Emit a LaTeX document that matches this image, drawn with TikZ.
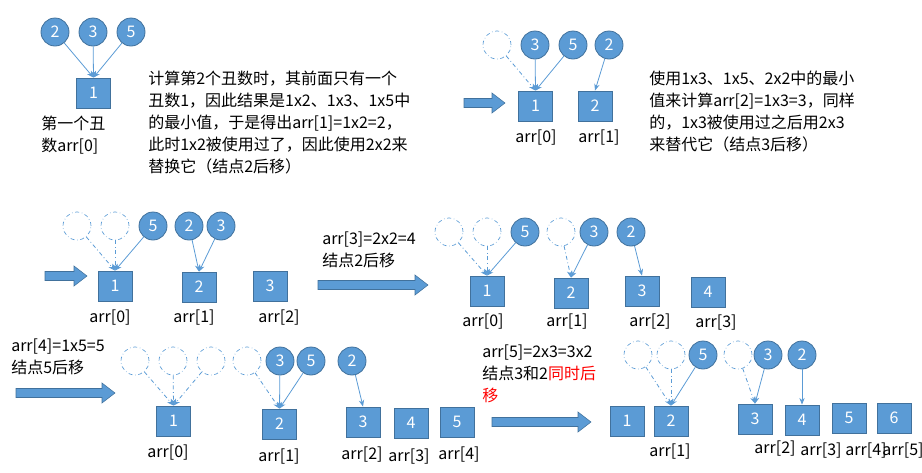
\documentclass[tikz,border=0pt]{standalone}
\usepackage{fontspec}
\setmainfont{Noto Sans CJK SC}
\usetikzlibrary{arrows.meta}
\definecolor{bfill}{HTML}{5B9BD5}
\definecolor{bdraw}{HTML}{41719C}
\begin{document}
\begin{tikzpicture}[x=0.75pt,y=-0.75pt,
  uc/.style={circle,fill=bfill,draw=bdraw,line width=0.6pt,minimum size=21pt,inner sep=0pt,text=white,font=\fontsize{12}{12}\selectfont},
  dc/.style={circle,draw=bfill,dash dot,line width=0.5pt,minimum size=21pt,inner sep=0pt},
  bx/.style={rectangle,fill=bfill,draw=bdraw,line width=0.6pt,minimum width=25.5pt,minimum height=22.5pt,inner sep=0pt,text=white,font=\fontsize{12}{12}\selectfont},
  lb/.style={font=\fontsize{12}{12}\selectfont,inner sep=0pt},
  tx/.style={font=\fontsize{12}{16.5}\selectfont,align=left,inner sep=0pt,anchor=north west},
  cn/.style={draw=bfill,line width=0.6pt,-{Stealth[length=5pt,width=4pt]}},
  dn/.style={cn,dash dot},
  fat/.style={fill=bfill,draw=bdraw,line width=0.4pt}]
\useasboundingbox (0,0) rectangle (922,472);
\newcommand{\fatarr}[3]{\fill[fat] (#1,#3-4.5) -- (#2-13,#3-4.5) -- (#2-13,#3-10) -- (#2,#3) -- (#2-13,#3+10) -- (#2-13,#3+4.5) -- (#1,#3+4.5) -- cycle;}
% panel 1
\node[uc] (a1) at (55,32) {2};
\node[uc] (a2) at (93,32) {3};
\node[uc] (a3) at (131,32) {5};
\node[bx] (ab1) at (93.5,93) {1};
\foreach \c in {a1,a2,a3} \draw[cn] (\c) -- (ab1.north);
\node[tx] (at1) at (41,116) {第一个丑\\数arr[0]};
\node[tx] (at2) at (148,71) {计算第2个丑数时，其前面只有一个\\丑数1，因此结果是1x2、1x3、1x5中\\的最小值，于是得出arr[1]=1x2=2，\\此时1x2被使用过了，因此使用2x2来\\替换它（结点2后移）};
% panel 2
\fatarr{464}{505}{103}
\node[dc] (b0) at (497,45) {};
\node[uc] (b1) at (535,45) {3};
\node[uc] (b2) at (573,45) {5};
\node[uc] (b3) at (609,45) {2};
\node[bx] (bb1) at (535.5,106) {1};
\node[bx] (bb2) at (595,106) {2};
\draw[dn] (b0) -- (bb1.north);
\draw[cn] (b1) -- (bb1.north);
\draw[cn] (b2) -- (bb1.north);
\draw[cn] (b3) -- (bb2.north);
\node[lb] (bl1) at (536,138) {arr[0]};
\node[lb] (bl2) at (599,138) {arr[1]};
\node[tx] (bt) at (649,71) {使用1x3、1x5、2x2中的最小\\值来计算arr[2]=1x3=3，同样\\的，1x3被使用过之后用2x3\\来替代它（结点3后移）};
% panel 3
\fatarr{45}{87}{276}
\node[dc] (c0) at (77,226) {};
\node[dc] (c1) at (115,226) {};
\node[uc] (c2) at (153,226) {5};
\node[uc] (c3) at (189,226) {2};
\node[uc] (c4) at (221,226) {3};
\node[bx] (cb1) at (115,286) {1};
\node[bx] (cb2) at (199,287) {2};
\node[bx] (cb3) at (270,286) {3};
\draw[dn] (c0) -- (cb1.north);
\draw[dn] (c1) -- (cb1.north);
\draw[cn] (c2) -- (cb1.north);
\draw[cn] (c3) -- (cb2.north);
\draw[cn] (c4) -- (cb2.north);
\node[lb] (cl1) at (110,318) {arr[0]};
\node[lb] (cl2) at (194,318) {arr[1]};
\node[lb] (cl3) at (279,318) {arr[2]};
\node[tx] (ct) at (322,232) {arr[3]=2x2=4\\结点2后移};
\fatarr{318}{428}{285}
% panel 4
\node[dc] (d0) at (449,232) {};
\node[dc] (d1) at (487,232) {};
\node[uc] (d2) at (525,232) {5};
\node[dc] (d3) at (561,232) {};
\node[uc] (d4) at (594,232) {3};
\node[uc] (d5) at (631,232) {2};
\node[bx] (db1) at (487,291) {1};
\node[bx] (db2) at (571,293) {2};
\node[bx] (db3) at (642,291) {3};
\node[bx] (db4) at (708,292) {4};
\draw[dn] (d0) -- (db1.north);
\draw[dn] (d1) -- (db1.north);
\draw[cn] (d2) -- (db1.north);
\draw[dn] (d3) -- (db2.north);
\draw[cn] (d4) -- (db2.north);
\draw[cn] (d5) -- (db3.north);
\node[lb] (dl1) at (483,322) {arr[0]};
\node[lb] (dl2) at (567,322) {arr[1]};
\node[lb] (dl3) at (650,322) {arr[2]};
\node[lb] (dl4) at (716,323) {arr[3]};
% panel 5
\node[tx] (et) at (11,339) {arr[4]=1x5=5\\结点5后移};
\fatarr{16}{115}{393}
\node[dc] (e0) at (135,361) {};
\node[dc] (e1) at (173,361) {};
\node[dc] (e2) at (211,361) {};
\node[dc] (e3) at (247,361) {};
\node[uc] (e4) at (280,361) {3};
\node[uc] (e5) at (311,361) {5};
\node[uc] (e6) at (352,361) {2};
\node[bx] (eb1) at (173.5,421) {1};
\node[bx] (eb2) at (279.5,424) {2};
\node[bx] (eb3) at (363,422) {3};
\node[bx] (eb4) at (411,423) {4};
\node[bx] (eb5) at (457,422) {5};
\draw[dn] (e0) -- (eb1.north);
\draw[dn] (e1) -- (eb1.north);
\draw[dn] (e2) -- (eb1.north);
\draw[dn] (e3) -- (eb2.north);
\draw[cn] (e4) -- (eb2.north);
\draw[cn] (e5) -- (eb2.north);
\draw[cn] (e6) -- (eb3.north);
\node[lb] (el1) at (168,453) {arr[0]};
\node[lb] (el2) at (279,457) {arr[1]};
\node[lb] (el3) at (362,455) {arr[2]};
\node[lb] (el4) at (409,457) {arr[3]};
\node[lb] (el5) at (459,455) {arr[4]};
% panel 6
\node[tx] (ft) at (482,345) {arr[5]=2x3=3x2\\结点3和2\textcolor{red}{同时后}\\\textcolor{red}{移}};
\fatarr{492}{591}{422}
\node[dc] (f0) at (638,355) {};
\node[dc] (f1) at (671,355) {};
\node[uc] (f2) at (703,355) {5};
\node[dc] (f3) at (738,355) {};
\node[uc] (f4) at (768,355) {3};
\node[uc] (f5) at (802,355) {2};
\node[bx] (fb1) at (627,421) {1};
\node[bx] (fb2) at (671,421) {2};
\node[bx] (fb3) at (755,419) {3};
\node[bx] (fb4) at (802,420) {4};
\node[bx] (fb5) at (849,418) {5};
\node[bx] (fb6) at (894,418) {6};
\draw[dn] (f0) -- (fb2.north);
\draw[dn] (f1) -- (fb2.north);
\draw[cn] (f2) -- (fb2.north);
\draw[dn] (f3) -- (fb3.north);
\draw[cn] (f4) -- (fb3.north);
\draw[cn] (f5) -- (fb4.north);
\node[lb] (fl2) at (670,452) {arr[1]};
\node[lb] (fl3) at (775,449) {arr[2]};
\node[lb] (fl4) at (821,451) {arr[3]};
\node[lb] (fl5) at (866,451) {arr[4]};
\node[lb] (fl6) at (903,451) {arr[5]};
\end{tikzpicture}
\end{document}
